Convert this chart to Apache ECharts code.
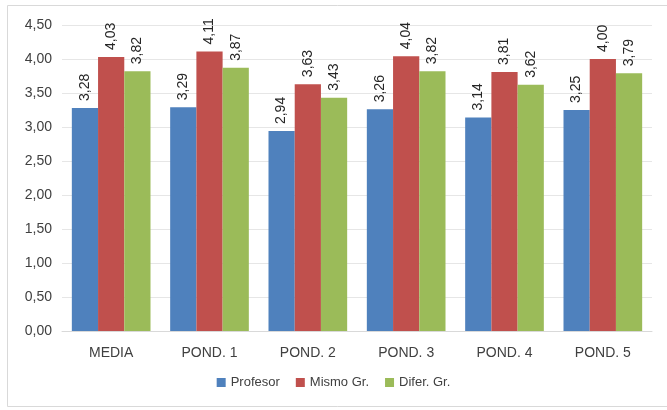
<!DOCTYPE html>
<html><head><meta charset="utf-8">
<script src="https://cdn.jsdelivr.net/npm/echarts@6/dist/echarts.min.js"></script>
<style>html,body{margin:0;padding:0;background:#fff}#c{width:667px;height:410px}</style>
</head><body><div id="c"></div>
<script>
const categories = ['MEDIA', 'POND. 1', 'POND. 2', 'POND. 3', 'POND. 4', 'POND. 5'];
const seriesNames = ['Profesor', 'Mismo Gr.', 'Difer. Gr.'];
const profesor = [3.28, 3.29, 2.94, 3.26, 3.14, 3.25];
const mismoGr = [4.03, 4.11, 3.63, 4.04, 3.81, 4.00];
const diferGr = [3.82, 3.87, 3.43, 3.82, 3.62, 3.79];
const yTicks = [0, 0.5, 1, 1.5, 2, 2.5, 3, 3.5, 4, 4.5];
const colors = ['#4F81BD', '#C0504D', '#9BBB59'];

const fmt = v => v.toFixed(2).replace('.', ',');
const font = 'Liberation Sans, Arial, sans-serif';
const chart = echarts.init(document.getElementById('c'));
const mk = (name, data, i) => ({
  name, type: 'bar', data, barGap: '0%', barCategoryGap: '20%',
  itemStyle: { color: colors[i] },
  label: {
    show: true, position: 'top', rotate: 90, align: 'left', verticalAlign: 'middle',
    distance: 7, color: '#262626', fontSize: 14, fontFamily: font,
    formatter: p => fmt(p.value)
  }
});
chart.setOption({
  animation: false,
  graphic: [{ type: 'rect', shape: { x: 7.5, y: 5.5, width: 670, height: 401 },
    style: { fill: 'none', stroke: '#d9d9d9', lineWidth: 1 } }],
  grid: { left: 62, right: 15, top: 25, bottom: 79 },
  legend: {
    data: seriesNames, bottom: 16, left: 'center', itemWidth: 9, itemHeight: 9,
    itemGap: 16, icon: 'rect',
    textStyle: { color: '#404040', fontSize: 13, fontFamily: font }
  },
  xAxis: {
    type: 'category', data: categories,
    axisLine: { lineStyle: { color: '#d9d9d9' } }, axisTick: { show: false },
    axisLabel: { color: '#404040', fontSize: 14, fontFamily: font, margin: 15 }
  },
  yAxis: {
    type: 'value', min: yTicks[0], max: yTicks[yTicks.length - 1], interval: 0.5,
    axisLine: { show: false }, axisTick: { show: false },
    splitLine: { lineStyle: { color: '#e6e6e6' } },
    axisLabel: { color: '#404040', fontSize: 14, fontFamily: font, margin: 10, formatter: v => fmt(v) }
  },
  series: [mk(seriesNames[0], profesor, 0), mk(seriesNames[1], mismoGr, 1), mk(seriesNames[2], diferGr, 2)]
});
</script></body></html>
